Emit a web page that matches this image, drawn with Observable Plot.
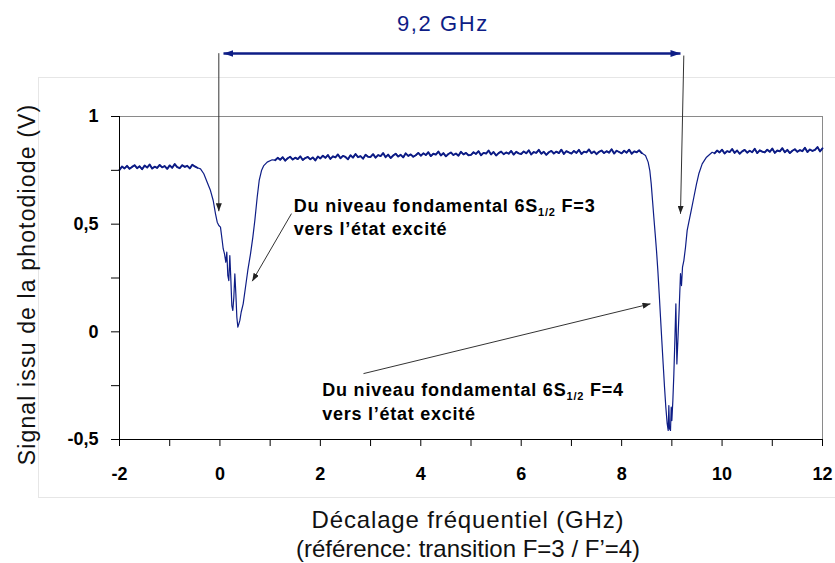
<!DOCTYPE html>
<html><head><meta charset="utf-8">
<script src="https://cdn.jsdelivr.net/npm/d3@7"></script>
<script src="https://cdn.jsdelivr.net/npm/@observablehq/plot@0.6"></script>
<style>
html,body{margin:0;padding:0;background:#fff}
body{width:835px;height:563px;overflow:hidden;position:relative;font-family:"Liberation Sans",Arial,sans-serif}
#area{position:absolute;left:38px;top:77px;width:830px;height:421px;border:1px solid #e6e6e6;box-sizing:border-box}
#chart{position:absolute;left:0;top:0}
.xtitle{position:absolute;left:168px;width:600px;text-align:center;font-size:24px;line-height:24px;color:#111;white-space:nowrap}
</style></head>
<body>
<div id="area"></div>
<div id="chart"></div>
<div class="xtitle" id="xt1" style="top:508px;letter-spacing:0.85px">Décalage fréquentiel (GHz)</div>
<div class="xtitle" id="xt2" style="top:537px">(référence: transition F=3 / F’=4)</div>
<script>
// ---- axis ticks ----
const xTicks = [-2,-1,0,1,2,3,4,5,6,7,8,9,10,11,12];
const xTickLabels = ["-2","","0","","2","","4","","6","","8","","10","","12"];
const yTicks = [-0.5,-0.25,0,0.25,0.5,0.75,1];
const yTickLabels = ["-0,5","","0","","0,5","","1"];

// ---- signal ----
// flat left part, samples every 0.05 GHz starting at -2
const leftStart = -2, step = 0.05;
const leftV = [.752,.768,.759,.771,.757,.766,.774,.760,.769,.755,.772,.763,.777,.758,.767,.761,.775,.764,.770,.757,.773,.762,.779,.765,.760,.774,.766,.771,.759,.776,.768,.762];
// first absorption dip (F=3)
const dip1 = [[-0.387,0.757],[-0.321,0.734],[-0.254,0.695],[-0.188,0.656],[-0.134,0.610],[-0.088,0.548],[-0.054,0.509],[-0.022,0.494],[0.011,0.486],[0.045,0.424],[0.065,0.386],[0.091,0.362],[0.117,0.323],[0.137,0.370],[0.157,0.262],[0.177,0.238],[0.197,0.354],[0.217,0.246],[0.237,0.122],[0.257,0.099],[0.277,0.161],[0.297,0.269],[0.317,0.177],[0.337,0.068],[0.357,0.022],[0.377,0.037],[0.397,0.053],[0.423,0.091],[0.463,0.130],[0.509,0.207],[0.555,0.285],[0.609,0.362],[0.655,0.439],[0.695,0.517],[0.742,0.625],[0.782,0.703],[0.828,0.749],[0.874,0.772],[0.941,0.788],[1.041,0.799]];
// flat middle part, samples every 0.05 GHz starting at 1.10
const midStart = 1.10;
const midV = [
 .797,.808,.799,.811,.795,.806,.813,.800,.809,.802,.815,.798,.807,.812,.801,.810,.796,.814,
 .805,.818,.808,.821,.803,.815,.810,.824,.806,.817,.812,.801,.820,.809,.826,.811,.816,.804,.822,.813,
 .812,.825,.809,.821,.816,.830,.811,.823,.807,.819,.827,.814,.822,.810,.829,.817,.824,.813,.820,.831,
 .818,.829,.821,.834,.816,.827,.823,.837,.819,.830,.815,.826,.833,.821,.828,.818,.836,.824,.831,.820,
 .822,.834,.826,.839,.820,.831,.828,.842,.824,.835,.819,.830,.837,.825,.833,.827,.840,.823,.836,.829,
 .826,.838,.829,.843,.824,.835,.831,.845,.827,.836,.822,.834,.840,.828,.837,.830,.846,.826,.839,.833,
 .828,.840,.831,.845,.826,.837,.833,.847,.829,.838,.825,.836,.842,.830,.839,.832,.848,.828,.841,.835,
 .829,.841,.832,.846,.827,.838,.834,.843,.830];
// second absorption dip (F=4)
const dip2 = [[8.475,0.819],[8.528,0.788],[8.561,0.749],[8.589,0.687],[8.615,0.610],[8.641,0.532],[8.668,0.455],[8.694,0.378],[8.721,0.285],[8.748,0.177],[8.774,0.068],[8.800,-0.040],[8.827,-0.149],[8.854,-0.257],[8.880,-0.350],[8.907,-0.427],[8.927,-0.458],[8.940,-0.342],[8.953,-0.450],[8.973,-0.458],[8.987,-0.350],[9.000,-0.412],[9.020,-0.319],[9.040,-0.195],[9.060,-0.040],[9.080,0.130],[9.100,-0.149],[9.120,-0.040],[9.147,0.114],[9.172,0.270],[9.192,0.215],[9.212,0.300],[9.239,0.331],[9.272,0.393],[9.305,0.471],[9.338,0.509],[9.385,0.563],[9.438,0.625],[9.491,0.687],[9.537,0.734],[9.604,0.780],[9.690,0.811],[9.803,0.834]];
// flat right part, samples every 0.05 GHz starting at 9.85
const rightStart = 9.85;
const rightV = [.829,.842,.833,.846,.828,.839,.835,.849,.831,.842,.827,.838,.845,.832,.841,.834,.850,.830,.843,.837,
 .833,.846,.836,.851,.831,.842,.838,.853,.834,.845,.830,.841,.848,.836,.844,.839,.855,.835,.847,.840,
 .845,.858,.838,.852];

// ---- annotations ----
const spanLabel = ["9,2 GHz"];
const spanLabelX = [4.442], spanLabelY = [1.399];
const spanX1 = [0.071], spanX2 = [9.172], spanY = [1.2926];
const arrowX1 = [-0.022, 9.238, 1.425, 2.859];
const arrowY1 = [1.294, 1.283, 0.549, -0.194];
const arrowX2 = [-0.022, 9.172, 0.643, 8.575];
const arrowY2 = [0.560, 0.548, 0.235, 0.130];
const annoText = ["Du niveau fondamental 6S1/2 F=3", "vers l’état excité", "Du niveau fondamental 6S1/2 F=4", "vers l’état excité"];
const annoX = [1.471, 1.471, 2.037, 2.037];
const annoY = [0.556, 0.451, -0.296, -0.409];
const yTitle = ["Signal issu de la photodiode (V)"];

// build tables
const rows = [];
const flat = [];
leftV.forEach((v,i)=>{const r={x:+(leftStart+i*step).toFixed(3), v, s:"a"}; rows.push(r); flat.push(r);});
dip1.forEach(([x,v])=>rows.push({x,v}));
midV.forEach((v,i)=>{const r={x:+(midStart+i*step).toFixed(3), v, s:"b"}; rows.push(r); flat.push(r);});
dip2.forEach(([x,v])=>rows.push({x,v}));
rightV.forEach((v,i)=>{const r={x:+(rightStart+i*step).toFixed(3), v, s:"c"}; rows.push(r); flat.push(r);});
rows.sort((a,b)=>a.x-b.x);

const arrows = arrowX1.map((d,i)=>({x1:d,y1:arrowY1[i],x2:arrowX2[i],y2:arrowY2[i]}));
const span = spanX1.map((d,i)=>({x1:d,x2:spanX2[i],y:spanY[i]}));
const spanLbl = spanLabel.map((t,i)=>({t,x:spanLabelX[i],y:spanLabelY[i]}));
const annos = annoText.map((t,i)=>({t,x:annoX[i],y:annoY[i]}));

const navy = "#0e1d86";
const chart = Plot.plot({
  width: 835, height: 497,
  marginTop: 116, marginBottom: 58, marginLeft: 119, marginRight: 13,
  style: {fontFamily: "'Liberation Sans', Arial, sans-serif", fontSize: "18px", fontWeight: "bold", background: "transparent", color: "#000", overflow: "visible"},
  x: {domain: [-2, 12], ticks: xTicks, tickSize: 7, tickPadding: 21, label: null,
      tickFormat: d => xTickLabels[xTicks.indexOf(d)] ?? ""},
  y: {domain: [-0.5, 1], ticks: yTicks, tickSize: 8, tickPadding: 13, label: null,
      tickFormat: d => yTickLabels[yTicks.indexOf(d)] ?? ""},
  marks: [
    Plot.ruleY([1], {stroke: "#8a8a8a", strokeWidth: 1}),
    Plot.ruleX([12], {stroke: "#8a8a8a", strokeWidth: 1}),
    Plot.line(flat, {x: "x", y: "v", z: "s", stroke: navy, strokeWidth: 1.9, strokeLinejoin: "round"}),
    Plot.line(rows, {x: "x", y: "v", stroke: navy, strokeWidth: 1.2, strokeLinejoin: "round"}),
    Plot.ruleX([-2], {stroke: "#000", strokeWidth: 1}),
    Plot.ruleY([-0.5], {stroke: "#000", strokeWidth: 1}),
    Plot.link(arrows, {x1: "x1", y1: "y1", x2: "x2", y2: "y2", stroke: "#333", strokeWidth: 1}),
    Plot.link(span, {x1: "x1", y1: "y", x2: "x2", y2: "y", stroke: navy, strokeWidth: 2.5}),
    Plot.text(spanLbl, {x: "x", y: "y", text: "t", fill: navy, fontSize: 22, fontWeight: "normal", textAnchor: "middle", lineAnchor: "bottom"}),
    Plot.text(annos, {x: "x", y: "y", text: "t", fill: "#000", fontSize: 18, fontWeight: "bold", textAnchor: "start", lineAnchor: "bottom"}),
    Plot.text(yTitle, {text: d => d, frameAnchor: "left", rotate: -90, dx: -85, dy: 6.5, fill: "#111", fontSize: 23, fontWeight: "normal", textAnchor: "middle", lineAnchor: "bottom"})
  ]
});
document.getElementById("chart").appendChild(chart);

// ---- post-processing: arrowheads, subscripts, letter spacing ----
const svg = d3.select(chart);
const defs = svg.insert("defs", ":first-child");
function marker(id, color, L, W) {
  defs.append("marker").attr("id", id).attr("viewBox", `0 0 ${L} ${W}`)
    .attr("refX", L).attr("refY", W/2).attr("markerWidth", L).attr("markerHeight", W)
    .attr("markerUnits", "userSpaceOnUse").attr("orient", "auto-start-reverse")
    .append("path").attr("d", `M0,0L${L},${W/2}L0,${W}Z`).attr("fill", color);
}
marker("headBlack", "#222", 8, 6);
marker("headNavy", navy, 10, 7);
const linkGroups = svg.selectAll('g[aria-label="link"]').nodes();
d3.select(linkGroups[0]).selectAll("path").attr("marker-end", "url(#headBlack)");
d3.select(linkGroups[1]).selectAll("path").attr("marker-end", "url(#headNavy)").attr("marker-start", "url(#headNavy)");

svg.selectAll("text").each(function() {
  const t = this.textContent;
  if (t.includes("6S1/2")) {
    const [a, b] = t.split("1/2");
    const el = d3.select(this);
    el.text(a);
    el.append("tspan").attr("font-size", 11).attr("dy", 4).text("1/2");
    el.append("tspan").attr("dy", -4).text(b);
    el.style("letter-spacing", "0.8px");
  } else if (t.startsWith("vers")) {
    d3.select(this).style("letter-spacing", "0.75px");
  } else if (t.startsWith("9,2")) {
    d3.select(this).style("letter-spacing", "1.6px");
  } else if (t.startsWith("Signal")) {
    d3.select(this).style("letter-spacing", "1.15px");
  }
});
</script>
</body></html>
